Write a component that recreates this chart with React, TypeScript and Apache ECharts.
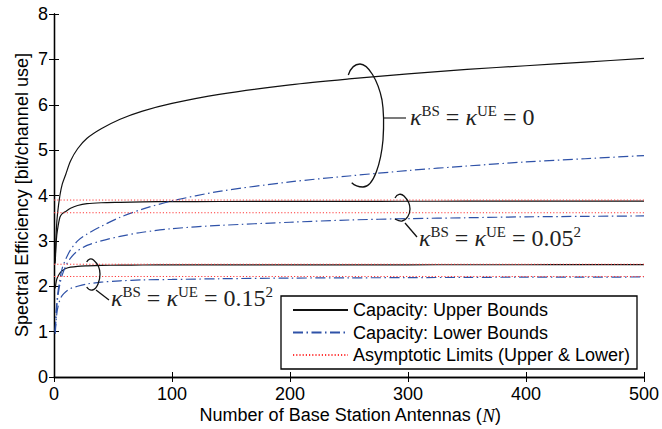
import React, { useEffect, useRef } from 'react';
import * as echarts from 'echarts';

// Number of base station antennas (N)
const antennas = [1, 2, 3, 5, 7, 10, 14, 20, 28, 40, 56, 75, 100, 140, 200, 250, 300, 350, 400, 450, 500];

// Capacity upper bounds
const upperK0 = [2.55, 3.25, 3.6, 4.0, 4.25, 4.47, 4.76, 5.03, 5.26, 5.47, 5.68, 5.86, 6.03, 6.23, 6.44, 6.57, 6.68, 6.78, 6.86, 6.94, 7.02];
const upperK005 = [2.5, 3.02, 3.25, 3.52, 3.6, 3.65, 3.72, 3.78, 3.82, 3.84, 3.85, 3.86, 3.865, 3.868, 3.87, 3.872, 3.873, 3.874, 3.875, 3.875, 3.876];
const upperK015 = [1.95, 2.12, 2.2, 2.29, 2.34, 2.39, 2.42, 2.44, 2.45, 2.46, 2.465, 2.468, 2.47, 2.471, 2.472, 2.473, 2.473, 2.474, 2.474, 2.475, 2.475];

// Capacity lower bounds
const lowerK0 = [1.0, 1.5, 1.8, 2.15, 2.4, 2.6, 2.8, 3.0, 3.15, 3.32, 3.52, 3.7, 3.88, 4.09, 4.3, 4.43, 4.55, 4.65, 4.74, 4.81, 4.88];
const lowerK005 = [1.0, 1.45, 1.72, 2.05, 2.25, 2.45, 2.62, 2.78, 2.9, 3.0, 3.1, 3.19, 3.27, 3.34, 3.41, 3.46, 3.49, 3.51, 3.53, 3.54, 3.55];
const lowerK015 = [0.95, 1.3, 1.5, 1.7, 1.8, 1.88, 1.95, 2.0, 2.05, 2.09, 2.12, 2.14, 2.15, 2.165, 2.18, 2.185, 2.19, 2.195, 2.2, 2.2, 2.205];

// Asymptotic limits (upper & lower for kappa = 0.05^2 and 0.15^2)
const asymptotes = [3.9, 3.62, 2.485, 2.215];
const asymptoteRange = [0, 500];

const legendNames = ['Capacity: Upper Bounds', 'Capacity: Lower Bounds', 'Asymptotic Limits (Upper & Lower)'];

const bracketA = 'M348.3,75 C351,67 356,64 360,64 C368,64 378,80 382,100 C384,112 384,125 383,140 C381,162 374,187 363,187 C358,187 354,185 351.7,182.7';
const bracketB = 'M395,198 C397,194 401,193 404,196 C408,200 410,205 410,209 C410,214 407,220 402,221 C399,221.5 397,220 395,219';
const bracketC = 'M86.7,262 C88,259 91,258 93.5,260 C97,263 100,268 100,274 C100,281 97,289 92.5,290 C90,290.5 88,289 86.7,287';

let registered = false;
function registerShapes() {
  if (registered) return;
  registered = true;
  echarts.graphic.registerShape('bracketA', echarts.graphic.extendPath(bracketA, {}));
  echarts.graphic.registerShape('bracketB', echarts.graphic.extendPath(bracketB, {}));
  echarts.graphic.registerShape('bracketC', echarts.graphic.extendPath(bracketC, {}));
}

const SANS = '"Liberation Sans", Arial, Helvetica, sans-serif';
const SERIF = '"Liberation Serif", "DejaVu Serif", serif';

const BLACK = '#111111';
const BLUE = '#2f52a8';
const RED = '#ff3a3a';

const pair = (ys: number[]) => antennas.map((n, i) => [n, ys[i]]);

const kappaRich = {
  k: { fontFamily: SERIF, fontStyle: 'italic', fontSize: 24, fill: '#222' },
  s: { fontFamily: SERIF, fontSize: 15, fill: '#222', padding: [0, 0, 13, 0] },
  t: { fontFamily: SERIF, fontSize: 24, fill: '#222' },
};

export default function App() {
  const ref = useRef<HTMLDivElement>(null);
  useEffect(() => {
    registerShapes();
    const chart = echarts.init(ref.current!, null, { renderer: 'svg' });

    const upperLine = { color: BLACK, width: 1.2, type: 'solid' };
    const lowerLine = { color: BLUE, width: 1.2, type: [10, 3.5, 1.5, 3.5] };
    const asymLine = { color: RED, width: 1, type: [1.2, 2] };

    const common = { type: 'line', showSymbol: false, symbol: 'none', smooth: 0.3, silent: true };

    const series: any[] = [];
    [upperK0, upperK005, upperK015].forEach((ys) =>
      series.push({ ...common, name: legendNames[0], data: pair(ys), lineStyle: upperLine, itemStyle: { color: BLACK }, z: 3 })
    );
    [lowerK0, lowerK005, lowerK015].forEach((ys) =>
      series.push({ ...common, name: legendNames[1], data: pair(ys), lineStyle: lowerLine, itemStyle: { color: BLUE }, z: 3 })
    );
    asymptotes.forEach((y) =>
      series.push({ ...common, smooth: false, name: legendNames[2], data: asymptoteRange.map((x) => [x, y]), lineStyle: asymLine, itemStyle: { color: RED }, z: 4 })
    );

    const axisCommon = {
      type: 'value',
      axisLine: { show: true, lineStyle: { color: '#000', width: 1.3 } },
      axisTick: { show: true, inside: true, length: 5, lineStyle: { color: '#000', width: 1 } },
      splitLine: { show: false },
    };

    const option: any = {
      animation: false,
      backgroundColor: '#fff',
      grid: { left: 54, right: 16, top: 14, bottom: 52, show: false },
      xAxis: [
        {
          ...axisCommon,
          position: 'bottom',
          min: 0,
          max: 500,
          interval: 100,
          axisLabel: { show: true, color: '#000', fontSize: 18, fontFamily: SANS, margin: 8 },
        },
        {
          ...axisCommon,
          position: 'top',
          min: 0,
          max: 500,
          interval: 100,
          axisLabel: { show: false },
        },
      ],
      yAxis: [
        {
          ...axisCommon,
          position: 'left',
          min: 0,
          max: 8,
          interval: 1,
          axisLabel: { show: true, color: '#000', fontSize: 18, fontFamily: SANS, margin: 6 },
        },
        {
          ...axisCommon,
          position: 'right',
          min: 0,
          max: 8,
          interval: 1,
          axisLabel: { show: false },
        },
      ],
      legend: {
        data: legendNames,
        orient: 'vertical',
        left: 292,
        top: 301,
        padding: 0,
        itemWidth: 55,
        itemHeight: 18,
        itemGap: 4.5,
        selectedMode: false,
        itemStyle: { opacity: 0, borderWidth: 0 },
        textStyle: { fontSize: 18, fontFamily: SANS, color: '#000' },
        z: 10,
      },
      graphic: [
        {
          type: 'rect',
          z: 8,
          shape: { x: 281, y: 296, width: 356, height: 73 },
          style: { fill: '#fff', stroke: '#000', lineWidth: 1.3 },
        },
        { type: 'bracketA', z: 6, style: { fill: null, stroke: '#111', lineWidth: 1.3 } },
        { type: 'bracketB', z: 6, style: { fill: null, stroke: '#111', lineWidth: 1.3 } },
        { type: 'bracketC', z: 6, style: { fill: null, stroke: '#111', lineWidth: 1.3 } },
        { type: 'line', z: 6, shape: { x1: 384, y1: 118, x2: 406, y2: 118 }, style: { stroke: '#333', lineWidth: 1.3 } },
        { type: 'line', z: 6, shape: { x1: 405, y1: 223, x2: 417, y2: 237 }, style: { stroke: '#111', lineWidth: 1.3 } },
        { type: 'line', z: 6, shape: { x1: 96, y1: 290, x2: 109, y2: 300 }, style: { stroke: '#111', lineWidth: 1.3 } },
        {
          type: 'text',
          z: 6,
          x: 410,
          y: 117,
          style: {
            text: '{k|κ}{s|BS}{t| = }{k|κ}{s|UE}{t| = 0}',
            rich: kappaRich,
            align: 'left',
            verticalAlign: 'middle',
          },
        },
        {
          type: 'text',
          z: 6,
          x: 419,
          y: 238,
          style: {
            text: '{k|κ}{s|BS}{t| = }{k|κ}{s|UE}{t| = 0.05}{s|2}',
            rich: kappaRich,
            align: 'left',
            verticalAlign: 'middle',
          },
        },
        {
          type: 'text',
          z: 6,
          x: 111,
          y: 298,
          style: {
            text: '{k|κ}{s|BS}{t| = }{k|κ}{s|UE}{t| = 0.15}{s|2}',
            rich: kappaRich,
            align: 'left',
            verticalAlign: 'middle',
          },
        },
        {
          type: 'text',
          z: 6,
          x: 350,
          y: 415,
          style: {
            text: '{a|Number of Base Station Antennas (}{i|N}{a|)}',
            rich: {
              a: { fontFamily: SANS, fontSize: 18, fill: '#000' },
              i: { fontFamily: SERIF, fontStyle: 'italic', fontSize: 19, fill: '#000' },
            },
            align: 'center',
            verticalAlign: 'middle',
          },
        },
        {
          type: 'text',
          z: 6,
          x: 22,
          y: 195,
          rotation: Math.PI / 2,
          style: {
            text: 'Spectral Efficiency [bit/channel use]',
            fontFamily: SANS,
            fontSize: 18,
            fill: '#000',
            align: 'center',
            verticalAlign: 'middle',
          },
        },
      ],
      series,
    };

    chart.setOption(option);
    return () => chart.dispose();
  }, []);
  return (
    <div
      ref={ref}
      style={{ position: 'fixed', left: 0, top: 0, width: 662, height: 429, background: '#fff' }}
    />
  );
}
